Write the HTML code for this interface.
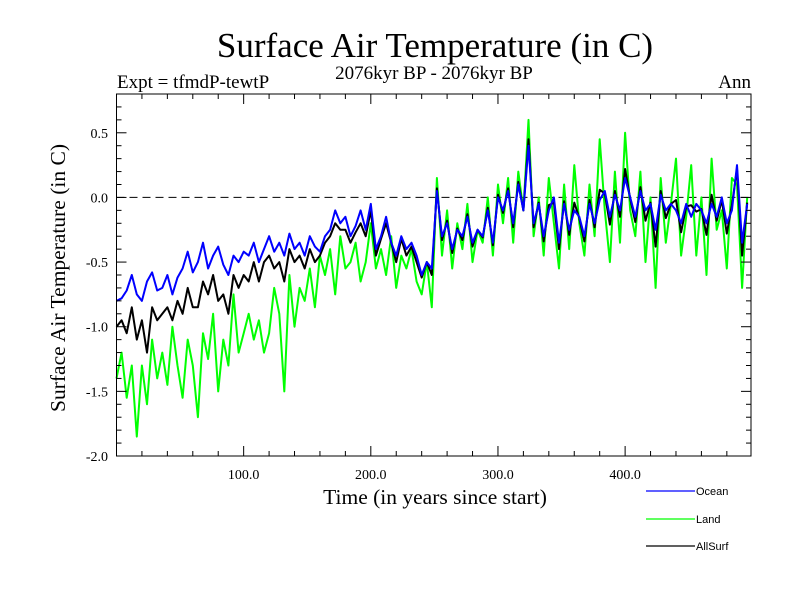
<!DOCTYPE html>
<html><head><meta charset="utf-8"><style>
body{margin:0;background:#fff}
svg{display:block;font-family:"Liberation Serif",serif}
</style></head><body>
<svg id="chart" width="800" height="600" viewBox="0 0 800 600" xmlns="http://www.w3.org/2000/svg">
<rect width="800" height="600" fill="#fff"/>
<text x="435" y="57" font-size="35" text-anchor="middle">Surface Air Temperature (in C)</text>
<text x="434" y="79" font-size="19" text-anchor="middle">2076kyr BP - 2076kyr BP</text>
<text x="117" y="88" font-size="19">Expt = tfmdP-tewtP</text>
<text x="751" y="88" font-size="19" text-anchor="end">Ann</text>
<text x="435" y="504" font-size="21.5" text-anchor="middle">Time (in years since start)</text>
<text transform="translate(65,278) rotate(-90)" font-size="21.5" text-anchor="middle">Surface Air Temperature (in C)</text>
<g id="plot"></g>
<g id="legend" font-family="Liberation Sans, sans-serif" font-size="11"></g>
</svg>
<script>
const xTickValues=[100,200,300,400];
const xTickLabels=["100.0","200.0","300.0","400.0"];
const yTickValues=[0.5,0.0,-0.5,-1.0,-1.5,-2.0];
const yTickLabels=["0.5","0.0","-0.5","-1.0","-1.5","-2.0"];
const seriesNames=["Land","AllSurf","Ocean"];
const ocean=[-0.8,-0.78,-0.72,-0.6,-0.75,-0.8,-0.65,-0.58,-0.72,-0.7,-0.6,
-0.75,-0.62,-0.55,-0.42,-0.58,-0.5,-0.35,-0.55,-0.45,-0.38,-0.52,-0.6,-0.45,-0.5,-0.42,
-0.45,-0.35,-0.5,-0.4,-0.3,-0.42,-0.35,-0.45,-0.28,-0.4,-0.35,-0.45,-0.3,-0.38,-0.42,
-0.3,-0.25,-0.1,-0.2,-0.15,-0.3,-0.22,-0.1,-0.25,-0.05,
-0.4,-0.3,-0.15,-0.35,-0.45,-0.3,-0.4,-0.35,-0.45,-0.6,-0.5,-0.55,
0.05,-0.3,-0.2,-0.4,-0.25,-0.3,-0.15,-0.35,-0.25,-0.3,-0.1,-0.35,0.0,
-0.1,0.05,-0.2,0.1,-0.1,0.4,-0.2,-0.05,-0.3,-0.1,0.0,-0.35,
-0.05,-0.25,-0.1,-0.15,-0.3,-0.05,-0.2,-0.02,0.05,-0.15,0.02,-0.1,0.15,
0.0,-0.15,0.05,-0.1,-0.05,-0.25,0.02,-0.1,-0.05,-0.1,-0.2,-0.05,
-0.15,-0.05,-0.1,-0.2,-0.05,-0.15,0.0,-0.2,-0.1,0.25,-0.35,-0.05];
const land=[-1.4,-1.2,-1.55,-1.3,-1.85,-1.3,-1.6,-1.1,-1.4,-1.2,-1.45,
-1.0,-1.3,-1.55,-1.1,-1.3,-1.7,-1.05,-1.25,-0.9,-1.5,-1.1,-1.3,-0.75,-1.2,-1.05,
-0.9,-1.1,-0.95,-1.2,-1.05,-0.7,-0.9,-1.5,-0.6,-1.0,-0.7,-0.8,-0.55,-0.85,-0.45,
-0.6,-0.4,-0.75,-0.3,-0.55,-0.5,-0.35,-0.65,-0.5,-0.2,
-0.55,-0.4,-0.6,-0.3,-0.7,-0.45,-0.55,-0.4,-0.65,-0.75,-0.5,-0.85,
0.15,-0.45,-0.1,-0.55,-0.2,-0.4,-0.05,-0.5,-0.25,-0.35,0.0,-0.45,0.1,
-0.2,0.15,-0.35,0.2,-0.1,0.6,-0.3,0.0,-0.45,0.15,-0.2,-0.55,
0.1,-0.4,0.25,-0.2,-0.45,0.1,-0.3,0.45,-0.1,-0.5,0.2,-0.35,0.5,
-0.1,-0.3,0.2,-0.5,0.0,-0.7,0.15,-0.35,-0.05,0.3,-0.45,-0.15,
0.25,-0.45,0.0,-0.6,0.3,-0.25,-0.1,-0.55,0.15,0.1,-0.7,0.0];
const allSurf=[-1.0,-0.95,-1.05,-0.85,-1.1,-0.95,-1.2,-0.85,-0.95,-0.9,-0.85,
-0.95,-0.8,-0.9,-0.7,-0.85,-0.85,-0.65,-0.75,-0.6,-0.8,-0.75,-0.9,-0.6,-0.7,-0.6,
-0.65,-0.5,-0.65,-0.5,-0.45,-0.55,-0.5,-0.65,-0.4,-0.5,-0.45,-0.55,-0.4,-0.5,-0.45,
-0.35,-0.3,-0.2,-0.25,-0.25,-0.35,-0.27,-0.2,-0.3,-0.1,
-0.45,-0.32,-0.2,-0.35,-0.5,-0.32,-0.45,-0.38,-0.5,-0.62,-0.5,-0.6,
0.07,-0.33,-0.18,-0.43,-0.24,-0.33,-0.13,-0.38,-0.25,-0.31,-0.08,-0.37,0.02,
-0.12,0.07,-0.23,0.12,-0.1,0.45,-0.23,-0.04,-0.34,-0.06,-0.04,-0.4,
-0.03,-0.29,-0.04,-0.16,-0.34,-0.02,-0.23,0.06,0.03,-0.21,0.05,-0.15,0.22,
-0.01,-0.19,0.08,-0.18,-0.04,-0.38,0.05,-0.16,-0.05,-0.02,-0.27,-0.07,
-0.06,-0.11,-0.09,-0.29,0.02,-0.18,-0.02,-0.28,-0.06,0.22,-0.45,-0.04];
const yearStep=4;
const X0=116.5,X1=751,Y0=94,Y1=456,XMIN=0,XMAX=499,YMIN=-2.0,YMAX=0.8;
function sx(v){return X0+(v-XMIN)/(XMAX-XMIN)*(X1-X0);}
function sy(v){return Y1-(v-YMIN)/(YMAX-YMIN)*(Y1-Y0);}
const NS="http://www.w3.org/2000/svg";
const plot=document.getElementById('plot');
function mk(tag,attrs,parent){const e=document.createElementNS(NS,tag);for(const k in attrs)e.setAttribute(k,attrs[k]);parent.appendChild(e);return e;}
let z=mk('line',{x1:X0,x2:X1,y1:sy(0),y2:sy(0),stroke:'#000','stroke-width':1,'stroke-dasharray':'8,5'},plot);


const cols={Land:'#00ff00',AllSurf:'#000000',Ocean:'#0000ff'};
const dataMap={Land:land,AllSurf:allSurf,Ocean:ocean};
seriesNames.forEach(n=>{
  const d=dataMap[n].map((v,i)=>(i?'L':'M')+sx(i*yearStep).toFixed(1)+','+sy(v).toFixed(1)).join('');
  const p=mk('path',{d:d,fill:'none',stroke:cols[n],'stroke-width':2,'stroke-linejoin':'round'},plot);
  
  
});
const fr=mk('rect',{x:X0,y:Y0,width:X1-X0,height:Y1-Y0,fill:'none',stroke:'#000','stroke-width':1},plot);


const tg=mk('g',{stroke:'#000','stroke-width':1},plot);


for(let v=20;v<XMAX;v+=20){const major=v%100===0;const L=major?10:5;
  mk('line',{x1:sx(v),x2:sx(v),y1:Y1,y2:Y1-L},tg);mk('line',{x1:sx(v),x2:sx(v),y1:Y0,y2:Y0+L},tg);}
for(let k=-19;k<=7;k++){const v=k/10;const major=k%5===0;const L=major?10:5;
  mk('line',{x1:X0,x2:X0+L,y1:sy(v),y2:sy(v)},tg);mk('line',{x1:X1,x2:X1-L,y1:sy(v),y2:sy(v)},tg);}
xTickValues.forEach((v,i)=>{const t=mk('text',{x:sx(v),y:479,'font-size':14,'text-anchor':'middle'},plot);t.textContent=xTickLabels[i];
  
  });
yTickValues.forEach((v,i)=>{const t=mk('text',{x:108,y:sy(v)+5,'font-size':14,'text-anchor':'end'},plot);t.textContent=yTickLabels[i];
  
  });
const lg=document.getElementById('legend');
const legOrder=["Ocean","Land","AllSurf"],legY=[491,519,546];
legOrder.forEach((n,i)=>{
  const g=mk('g',{},lg);
  
  
  mk('line',{x1:646,x2:695,y1:legY[i],y2:legY[i],stroke:cols[n],'stroke-width':1.3},g);
  const t=mk('text',{x:696,y:legY[i]+4},g);t.textContent=n;
});
</script>
</body></html>
